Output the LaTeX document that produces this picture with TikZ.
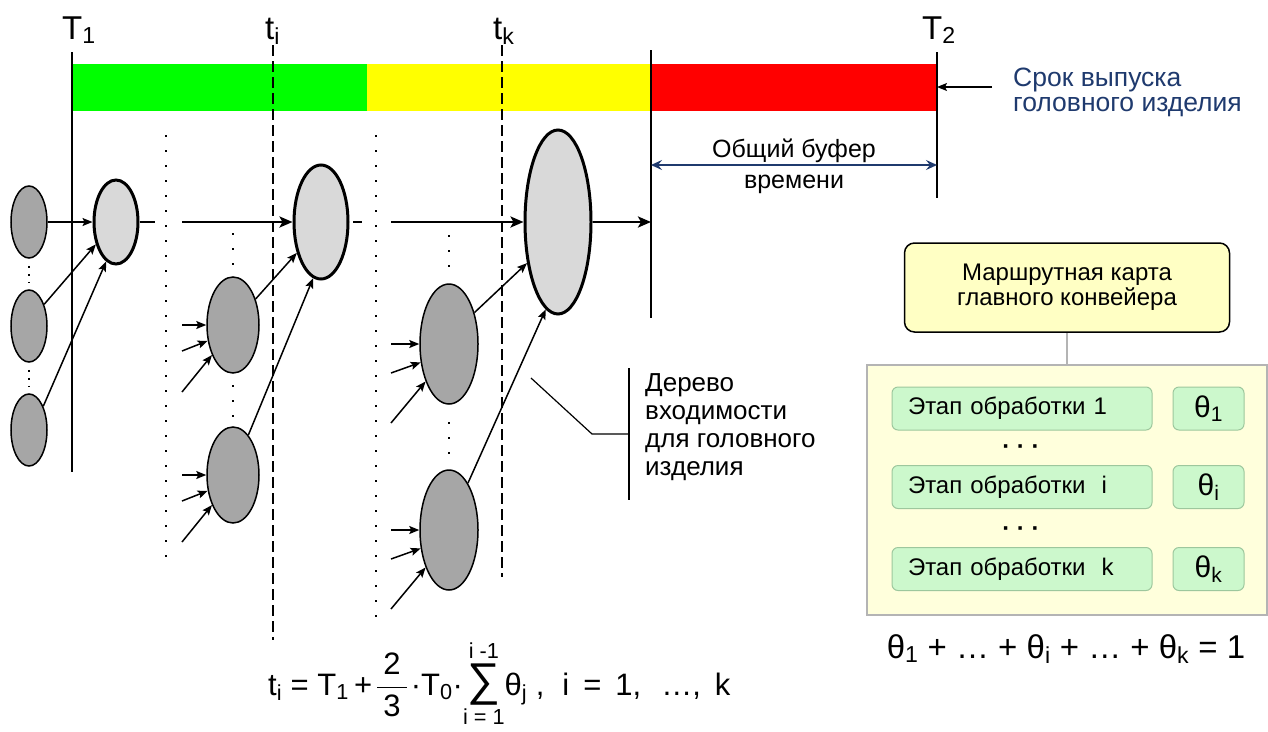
\RequirePackage{fix-cm}
\documentclass[tikz,border=0pt]{standalone}
\usepackage{amsmath}
\usepackage{fontspec}
\setmainfont{Liberation Sans}
\usepackage{tikz}
\usetikzlibrary{arrows.meta,shapes.geometric,calc}
\definecolor{barGreen}{HTML}{00FF00}
\definecolor{barYellow}{HTML}{FFFF00}
\definecolor{barRed}{HTML}{FF0000}
\definecolor{nodeDark}{HTML}{A6A6A6}
\definecolor{nodeLight}{HTML}{D9D9D9}
\definecolor{noteBlue}{HTML}{1F3A6E}
\definecolor{cardYellow}{HTML}{FFFFC4}
\definecolor{panelYellow}{HTML}{FFFFDC}
\definecolor{panelEdge}{HTML}{B4B4B4}
\definecolor{stepGreen}{HTML}{CCF8CC}
\definecolor{stepEdge}{HTML}{9DC79D}
\newcommand{\fsLabel}{\fontsize{33}{38}\selectfont}
\newcommand{\fsText}{\fontsize{25}{28}\selectfont}
\newcommand{\fsTree}{\fontsize{26}{28}\selectfont}
\newcommand{\fsDue}{\fontsize{26.5}{25}\selectfont}
\newcommand{\fsBox}{\fontsize{24}{25}\selectfont}
\newcommand{\fsTheta}{\fontsize{30}{32}\selectfont}
\newcommand{\fsFormula}{\fontsize{31}{36}\selectfont}
\newcommand{\fsSum}{\fontsize{33}{36}\selectfont}
\newcommand{\bigsigma}{\mathop{\text{\fontsize{46}{46}\selectfont ∑}}}

\begin{document}
\begin{tikzpicture}[x=1pt,y=-1pt,
  dark/.style={ellipse,draw,fill=nodeDark,line width=1.5pt,inner sep=0pt},
  light/.style={ellipse,draw,fill=nodeLight,line width=3pt,inner sep=0pt},
  feed/.style={-{Stealth[length=10pt,width=8pt,inset=2pt]},line width=1.5pt},
  flow/.style={-{Stealth[length=13pt,width=11pt,inset=3pt]},line width=2.5pt},
  tline/.style={line width=2pt,dash pattern=on 11pt off 5pt},
  dotline/.style={line width=2pt,dash pattern=on 2pt off 13pt},
  dotshort/.style={line width=2.5pt,dash pattern=on 2pt off 6pt},
  stepbox/.style={draw=stepEdge,fill=stepGreen,rounded corners=6pt,line width=1pt,
    minimum height=43pt,font=\fsBox},
  thbox/.style={stepbox,minimum width=71pt,font=\fsTheta,inner sep=0pt}]
  \useasboundingbox (0,0) rectangle (1268,731);

  % time bar
  \fill[barGreen] (72,64) rectangle (367,111);
  \fill[barYellow] (367,64) rectangle (651,111);
  \fill[barRed] (651,64) rectangle (937,111);

  % time marks
  \draw[line width=1.5pt] (72,52) -- (72,472);
  \draw[tline] (273,45) -- (273,640);
  \draw[tline] (502,45) -- (502,577);
  \coordinate (endTop) at (651,50);
  \coordinate (endBot) at (651,318);
  \draw[line width=1.5pt] (endTop) -- (endBot);
  \coordinate (dueTop) at (937,52);
  \coordinate (dueBot) at (937,198);
  \draw[line width=1.5pt] (dueTop) -- (dueBot);
  \node[anchor=base west,font=\fsLabel,inner sep=0pt] (lblT1) at (62,39) {T\textsubscript{1}};
  \node[anchor=base west,font=\fsLabel,inner sep=0pt] (lblti) at (265,39) {t\textsubscript{i}};
  \node[anchor=base west,font=\fsLabel,inner sep=0pt] (lbltk) at (493,39) {t\textsubscript{k}};
  \node[anchor=base west,font=\fsLabel,inner sep=0pt] (lblT2) at (922,39) {T\textsubscript{2}};

  % stage separators
  \draw[dotline] (166,135) -- (166,565);
  \draw[dotline] (376,135) -- (376,625);

  % first stage
  \node[dark,minimum width=36pt,minimum height=72pt] (g1) at (29,222) {};
  \node[dark,minimum width=36pt,minimum height=72pt] (g2) at (29,326) {};
  \node[dark,minimum width=36pt,minimum height=72pt] (g3) at (29,430) {};
  \node[light,minimum width=44pt,minimum height=84pt] (l1) at (116,222) {};
  \draw[dotshort] ($(g1.south)+(0,7)$) -- ($(g2.north)+(0,-7)$);
  \draw[dotshort] ($(g2.south)+(0,7)$) -- ($(g3.north)+(0,-7)$);
  \draw[feed] (g1.east) -- (l1.west);
  \draw[feed] (g2.55) -- (l1.228);
  \draw[feed] (g3.59) -- (l1.256);
  \draw[line width=2.5pt] (l1.east) -- ++(15,0);

  % second stage
  \node[dark,minimum width=52pt,minimum height=96pt] (g2a) at (233,325) {};
  \node[dark,minimum width=52pt,minimum height=96pt] (g2b) at (233,475) {};
  \node[light,minimum width=54pt,minimum height=114pt] (l2) at (321,222) {};
  \draw[dotline] (233,233) -- (233,265);
  \draw[dotline] (233,385) -- (233,417);
  \foreach \n in {g2a,g2b} {
    \draw[feed] ($(\n)+(-51,0)$) -- (\n.west);
    \draw[feed] ($(\n)+(-51,26)$) -- (\n.212);
    \draw[feed] ($(\n)+(-51,67)$) -- (\n.235);
  }
  \coordinate (f2) at (182,222);
  \draw[flow] (f2) -- (l2.west);
  \draw[feed] (g2a.49) -- (l2.232);
  \draw[feed] (g2b.69) -- (l2.262);
  \draw[line width=2.5pt] (353,222) -- (362,222);

  % third stage
  \node[dark,minimum width=58pt,minimum height=120pt] (g3a) at (449,344) {};
  \node[dark,minimum width=58pt,minimum height=120pt] (g3b) at (449,530) {};
  \node[light,minimum width=66pt,minimum height=184pt] (l3) at (558,222) {};
  \draw[dotline] (449,235) -- (449,270);
  \draw[dotline] (449,422) -- (449,455);
  \foreach \n in {g3a,g3b} {
    \draw[feed] ($(\n)+(-58,0)$) -- (\n.west);
    \draw[feed] ($(\n)+(-58,29)$) -- (\n.213);
    \draw[feed] ($(\n)+(-58,79)$) -- (\n.238);
  }
  \coordinate (f3) at (391,222);
  \draw[flow] (f3) -- (l3.west);
  \draw[feed] (g3a.51) -- (l3.233);
  \draw[feed] (g3b.68) -- (l3.262);
  \draw[flow] (l3.east) -- (l3.east -| endTop);

  % buffer
  \coordinate (bufL) at (651,165);
  \coordinate (bufR) at (937,165);
  \draw[noteBlue,line width=1.5pt,{Stealth[length=11pt,width=10pt,inset=4pt]}-{Stealth[length=11pt,width=10pt,inset=4pt]}] (bufL) -- (bufR);
  \node[font=\fsText,anchor=base] (bufTop) at (794,157) {Общий буфер};
  \node[font=\fsText,anchor=base] (bufBot) at (794,188) {времени};

  % deadline note
  \node[font=\fsDue,text=noteBlue,align=left,anchor=base west,inner sep=0pt] (due) at (1013,86) {Срок выпуска};
  \node[font=\fsDue,text=noteBlue,align=left,anchor=base west,inner sep=0pt] (due2) at (1013,111) {головного изделия};
  \coordinate (dueTail) at (992,87);
  \draw[feed,line width=1.2pt] (dueTail) -- (dueTail -| dueTop);

  % tree note
  \coordinate (treeA) at (531,378);
  \coordinate (treeB) at (592,434);
  \coordinate (treeBarTop) at (629,368);
  \coordinate (treeBarBot) at (629,500);
  \draw[line width=1.2pt] (treeA) -- (treeB) -- (treeB -| treeBarTop);
  \draw[line width=1.2pt] (treeBarTop) -- (treeBarBot);
  \node[font=\fsTree,align=left,anchor=north west,inner sep=0pt] (tree) at (645,373) {Дерево\\входимости\\для головного\\изделия};

  % route card
  \node[draw,line width=1.5pt,rounded corners=10pt,fill=cardYellow,minimum width=325pt,
    minimum height=89pt,align=center,font=\fsBox] (card) at (1067,287.5) {Маршрутная карта\\главного конвейера};
  \node[draw=panelEdge,fill=panelYellow,line width=1.2pt,minimum width=400pt,minimum height=250pt] (panel) at (1067,490) {};
  \draw[panelEdge,line width=1.2pt] (card.south) -- (panel.north);
  \node[stepbox,text width=228pt,inner xsep=16pt,align=left] (s1) at (1022,408.5) {Этап обработки 1};
  \node[stepbox,text width=228pt,inner xsep=16pt,align=left] (si) at (1022,487) {Этап обработки\ \ i};
  \node[stepbox,text width=228pt,inner xsep=16pt,align=left] (sk) at (1022,569) {Этап обработки\ \ k};
  \node[thbox] (th1) at (1208.5,408.5) {θ\textsubscript{1}};
  \node[thbox] (thi) at (1208.5,487) {θ\textsubscript{i}};
  \node[thbox] (thk) at (1208.5,569) {θ\textsubscript{k}};
  \node[font=\fsBox\bfseries] (dots1) at (1021,450) {·\ ·\ ·};
  \node[font=\fsBox\bfseries] (dots2) at (1021,532) {·\ ·\ ·};
  \node[font=\fsSum,anchor=base] (thsum) at (1066,658) {θ\textsubscript{1} + … + θ\textsubscript{i} + … + θ\textsubscript{k} = 1};

  % start times
  \node[font=\fsFormula,anchor=base west,inner sep=0pt] (rule) at (268,695)
    {t\textsubscript{i} = T\textsubscript{1}\,+\hspace{4pt}$\dfrac{\hspace{6pt}\text{2}\hspace{6pt}}{\text{3}}$\hspace{3pt}·T\textsubscript{0}·$\bigsigma\limits_{\text{i = 1}}^{\text{i -1}}$θ\textsubscript{j} ,\hspace{18pt}i\hspace{14pt}=\hspace{14pt}1,\hspace{20pt}…,\hspace{14pt}k};
\end{tikzpicture}
\end{document}
